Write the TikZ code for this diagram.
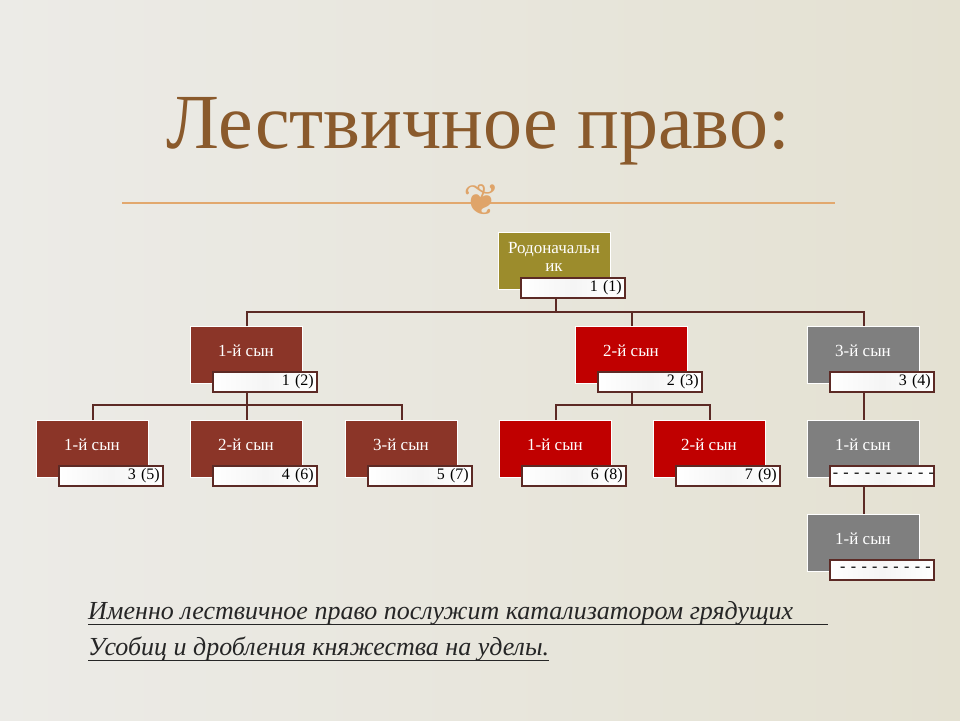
\documentclass[tikz,border=0pt]{standalone}
\usepackage{fontspec}
\setmainfont{Liberation Serif}
\newfontfamily\djv{DejaVu Sans}
\begin{document}
\begin{tikzpicture}[x=1pt,y=-1pt,
  conn/.style={draw=lineC,line width=2pt},
  mbox/.style={draw=white,line width=1.2pt,minimum width=112pt,minimum height=57pt,anchor=north west,inner sep=0pt,text=white,align=center},
  mtext/.style={text=white,font=\fontsize{17}{17}\selectfont,align=center,inner sep=0pt},
  lbox/.style={draw=lineC,line width=1.6pt,left color=white,right color=white,middle color=gray!8,minimum width=104pt,minimum height=20pt,anchor=north west,inner sep=2pt,font=\fontsize{16}{16}\selectfont,align=right,text width=98pt}]
\definecolor{lineC}{HTML}{5C2A25}
\definecolor{olive}{HTML}{9C8C2C}
\definecolor{brn}{HTML}{8B3528}
\definecolor{rd}{HTML}{C00000}
\definecolor{gr}{HTML}{7F7F7F}
\definecolor{ttl}{HTML}{8A5A2C}
\definecolor{orn}{HTML}{E2A86E}
\useasboundingbox (0,0) rectangle (960,720);
\shade[left color={rgb,255:red,236;green,235;blue,231},right color={rgb,255:red,228;green,225;blue,210}] (0,0) rectangle (960,720);
\node[text=ttl,font=\fontsize{78}{78}\selectfont,anchor=base] (title) at (478,148) {Лествичное право:};
\coordinate (d1) at (122,203); \coordinate (d2) at (835,203);
\draw[draw=orn,line width=1.6pt] (d1) -- (d2);
\node[text=orn!90!brown,font=\djv\fontsize{44}{44}\selectfont] (ornament) at (482,200) {❦};
\newcommand\mybox[6]{%
 \node[mbox,fill=#4] (#1) at (#2,#3) {};
 \node[mtext] (#1t) at (#2+56,#3+25) {#5};
 \node[lbox] (#1l) at (#2+22,#3+45) {#6};}
\mybox{r}{498}{232}{olive}{Родоначальн\\[1pt]ик}{1 (1)}
\mybox{a}{190}{326}{brn}{1-й сын}{1 (2)}
\mybox{b}{575}{326}{rd}{2-й сын}{2 (3)}
\mybox{c}{807}{326}{gr}{3-й сын}{3 (4)}
\mybox{aa}{36}{420}{brn}{1-й сын}{3 (5)}
\mybox{ab}{190}{420}{brn}{2-й сын}{4 (6)}
\mybox{ac}{345}{420}{brn}{3-й сын}{5 (7)}
\mybox{ba}{499}{420}{rd}{1-й сын}{6 (8)}
\mybox{bb}{653}{420}{rd}{2-й сын}{7 (9)}
\mybox{ca}{807}{420}{gr}{1-й сын}{\mbox{- - - - - - - - - -}}
\mybox{cb}{807}{514}{gr}{1-й сын}{\mbox{- - - - - - - - -}}
\draw[conn] (556,298) -- (556,312);
\draw[conn] (a.north) |- (c.north |- 0,312) -- (c.north);
\draw[conn] (b.north) -- (b.north |- 0,312);
\draw[conn] (a.south |- al.south) -- (a.south |- 0,405);
\draw[conn] (aa.north) |- (ac.north |- 0,405) -- (ac.north);
\draw[conn] (ab.north) -- (ab.north |- 0,405);
\draw[conn] (b.south |- bl.south) -- (b.south |- 0,405);
\draw[conn] (ba.north) |- (bb.north |- 0,405) -- (bb.north);
\draw[conn] (c.south |- cl.south) -- (ca.north);
\draw[conn] (ca.south |- cal.south) -- (cb.north);
\node[anchor=base west,inner sep=0pt,font=\fontsize{26}{28}\selectfont\itshape,text=black!85] (t1) at (88,619) {Именно лествичное право послужит катализатором грядущих};
\node[anchor=base west,inner sep=0pt,font=\fontsize{26}{28}\selectfont\itshape,text=black!85] (t2) at (88,655) {Усобиц и дробления княжества на уделы.};
\draw[black!85,line width=0.9pt] (88,624) -- (828,624);
\draw[black!85,line width=0.9pt] (88,660) -- (t2.base east |- 0,660);
\end{tikzpicture}
\end{document}
